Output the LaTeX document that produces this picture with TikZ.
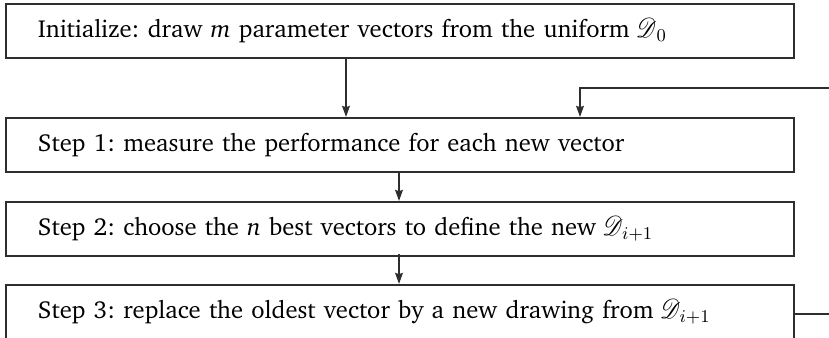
\documentclass[tikz,border=0pt]{standalone}
\usepackage[T1]{fontenc}
\IfFileExists{charter.sty}{\usepackage{charter}}{\usepackage{fontspec}\setmainfont{Liberation Serif}}
\IfFileExists{mathrsfs.sty}{\usepackage{mathrsfs}}{\let\mathscr\mathcal}
\usepackage{graphicx}
\usetikzlibrary{arrows.meta}
\newcommand{\distD}{\mathord{\scalebox{1.0}[1.15]{$\mathscr{D}$}}}
\definecolor{edge}{HTML}{2E2E2E}
\tikzset{
  stepbox/.style={draw=edge, line width=0.9pt, text width=362pt, inner xsep=16pt, inner ysep=0pt,
    minimum height=27pt, anchor=north west, align=left, font=\fontsize{12.3}{14}\selectfont\frenchspacing},
  conn/.style={draw=edge, line width=1pt, -{Stealth[length=5.5pt,width=3.8pt,inset=0.6pt]}},
  plain/.style={draw=edge, line width=1pt}
}
\begin{document}
\begin{tikzpicture}[x=0.5pt,y=-0.5pt]
\useasboundingbox (0,0) rectangle (829,337);
\node[stepbox] (init) at (5,3) {Initialize: draw \textit{m} parameter vectors from the uniform\hspace{-1pt} $\distD_0$};
\node[stepbox] (s1) at (5,117) {Step 1: measure the performance for each new vector};
\node[stepbox] (s2) at (5,201) {Step 2: choose the \textit{n} best vectors to define the new\hspace{-1pt} $\distD_{\mkern-1mu i+1}$};
\node[stepbox] (s3) at (5,284) {Step 3: replace the oldest vector by a new drawing from\hspace{-1pt} $\distD_{\mkern-1mu i+1}$};
\coordinate (loopin) at (829,88);
\coordinate (loopout) at (829,314);
\coordinate (fb) at (580,88);
\coordinate (a1) at (346,57);
\coordinate (a2) at (399,171);
\coordinate (a3) at (399,254);
\draw[conn] (a1) -- (a1 |- s1.north);
\draw[conn] (a2) -- (a2 |- s2.north);
\draw[conn] (a3) -- (a3 |- s3.north);
\draw[conn] (loopin) -- (fb) -- (fb |- s1.north);
\draw[plain] (s3.east |- loopout) -- (loopout);
\end{tikzpicture}
\end{document}
